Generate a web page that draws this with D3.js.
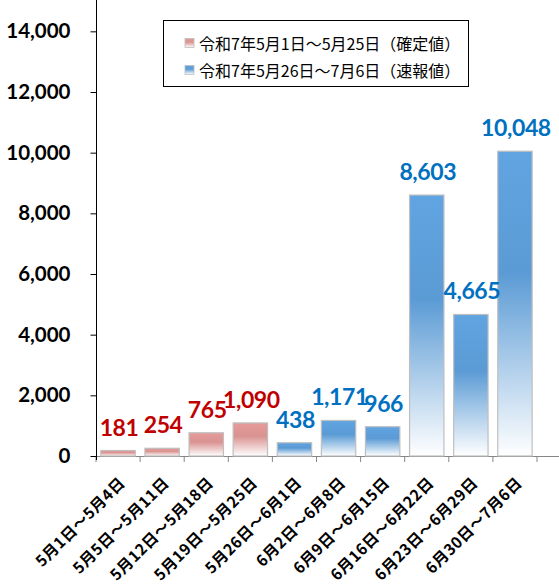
<!DOCTYPE html>
<html>
<head>
<meta charset="utf-8">
<script src="https://cdn.jsdelivr.net/npm/d3@7"></script>
<style>
  body { margin: 0; background: #fff; }
  svg text { font-family: Lato, "Noto Sans CJK JP", sans-serif; }
</style>
</head>
<body>
<div id="chart"></div>
<script>
// weekly counts, two series (confirmed / preliminary)
var categories = ['5月1日～5月4日', '5月5日～5月11日', '5月12日～5月18日', '5月19日～5月25日',
    '5月26日～6月1日', '6月2日～6月8日', '6月9日～6月15日', '6月16日～6月22日',
    '6月23日～6月29日', '6月30日～7月6日'];
var values = [181, 254, 765, 1090, 438, 1171, 966, 8603, 4665, 10048];
var series = ['red', 'red', 'red', 'red', 'blue', 'blue', 'blue', 'blue', 'blue', 'blue'];
var legendLabels = ['令和7年5月1日～5月25日（確定値）', '令和7年5月26日～7月6日（速報値）'];
var yTicks = [0, 2000, 4000, 6000, 8000, 10000, 12000, 14000];

var width = 559, height = 586;
var colors = {
    red: { bar: '#d99391', label: '#c00000' },
    blue: { bar: '#5b9bd5', label: '#0070c0' }
};

var svg = d3.select('#chart').append('svg')
    .attr('width', width)
    .attr('height', height);

var defs = svg.append('defs');
Object.keys(colors).forEach(function(k) {
    var g = defs.append('linearGradient')
        .attr('id', 'grad-' + k)
        .attr('x1', 0).attr('y1', 0).attr('x2', 0).attr('y2', 1);
    g.append('stop').attr('offset', '0%').attr('stop-color', d3.color(colors[k].bar).brighter(0.15));
    g.append('stop').attr('offset', '40%').attr('stop-color', colors[k].bar);
    g.append('stop').attr('offset', '100%').attr('stop-color', '#ffffff');
});

var x = d3.scaleBand()
    .domain(categories)
    .range([96, 537])
    .paddingInner(0.22)
    .paddingOuter(0.11);

var y = d3.scaleLinear()
    .domain([0, 15000])
    .range([456, 1]);

var step = x.step();

// x axis line + ticks
svg.append('line')
    .attr('x1', 96).attr('x2', width)
    .attr('y1', y(0) + 0.5).attr('y2', y(0) + 0.5)
    .style('stroke', '#868686');
svg.selectAll('.xtick')
    .data(d3.range(categories.length + 1))
    .enter().append('line')
    .attr('class', 'xtick')
    .attr('x1', function(i) { return 96 + i * step; })
    .attr('x2', function(i) { return 96 + i * step; })
    .attr('y1', y(0))
    .attr('y2', y(0) + 6)
    .style('stroke', '#868686');

// y axis
var yAxis = svg.append('g')
    .attr('transform', 'translate(96.5,0)')
    .call(d3.axisLeft(y).tickValues(yTicks).tickSize(6).tickPadding(20)
        .tickFormat(d3.format(',')));
yAxis.select('.domain').attr('d', 'M0,0V' + (y(0) + 4));
yAxis.selectAll('line').style('stroke', '#000');
yAxis.selectAll('text')
    .style('font-family', 'Lato, sans-serif')
    .style('font-size', '20.5px')
    .style('font-weight', 'bold')
    .style('fill', '#000');

// bars
svg.selectAll('.bar')
    .data(values)
    .enter().append('rect')
    .attr('class', 'bar')
    .attr('x', function(d, i) { return x(categories[i]); })
    .attr('y', function(d) { return y(d); })
    .attr('width', x.bandwidth())
    .attr('height', function(d) { return y(0) - y(d); })
    .style('fill', function(d, i) { return 'url(#grad-' + series[i] + ')'; })
    .style('stroke', '#bfbfbf')
    .style('stroke-width', 1.2);

// value labels
svg.selectAll('.val')
    .data(values)
    .enter().append('text')
    .attr('class', 'val')
    .attr('x', function(d, i) { return x(categories[i]) + x.bandwidth() / 2 + 1; })
    .attr('y', function(d) { return y(d) - 15; })
    .attr('text-anchor', 'middle')
    .style('font-size', '23px')
    .style('letter-spacing', '-0.4px')
    .style('font-weight', 'bold')
    .style('fill', function(d, i) { return colors[series[i]].label; })
    .text(function(d) { return d3.format(',')(d); });

// category labels
svg.selectAll('.cat')
    .data(categories)
    .enter().append('text')
    .attr('class', 'cat')
    .attr('transform', function(d) {
        return 'translate(' + (x(d) + x.bandwidth() / 2 + 8) + ',484) rotate(-45)';
    })
    .attr('text-anchor', 'end')
    .style('font-family', '"Noto Sans CJK JP", sans-serif')
    .style('font-size', '15.5px')
    .style('letter-spacing', '0.5px')
    .style('font-weight', 'bold')
    .style('fill', '#000')
    .text(function(d) { return d; });

// legend
var legend = svg.append('g');
legend.append('rect')
    .attr('x', 163.5).attr('y', 20.5)
    .attr('width', 305).attr('height', 66)
    .style('fill', '#fff')
    .style('stroke', '#000');
var item = legend.selectAll('.item')
    .data(legendLabels)
    .enter().append('g')
    .attr('class', 'item')
    .attr('transform', function(d, i) { return 'translate(185,' + (43 + i * 27) + ')'; });
item.append('rect')
    .attr('x', 0).attr('y', -4.5)
    .attr('width', 9).attr('height', 9)
    .style('fill', function(d, i) { return 'url(#grad-' + (i === 0 ? 'red' : 'blue') + ')'; })
    .style('stroke', '#bfbfbf')
    .style('stroke-width', 0.8);
item.append('text')
    .attr('x', 14)
    .attr('y', 6.5)
    .style('font-family', '"Noto Sans CJK JP", sans-serif')
    .style('font-size', '16px')
    .style('fill', '#000')
    .text(function(d) { return d; });
</script>
</body>
</html>
